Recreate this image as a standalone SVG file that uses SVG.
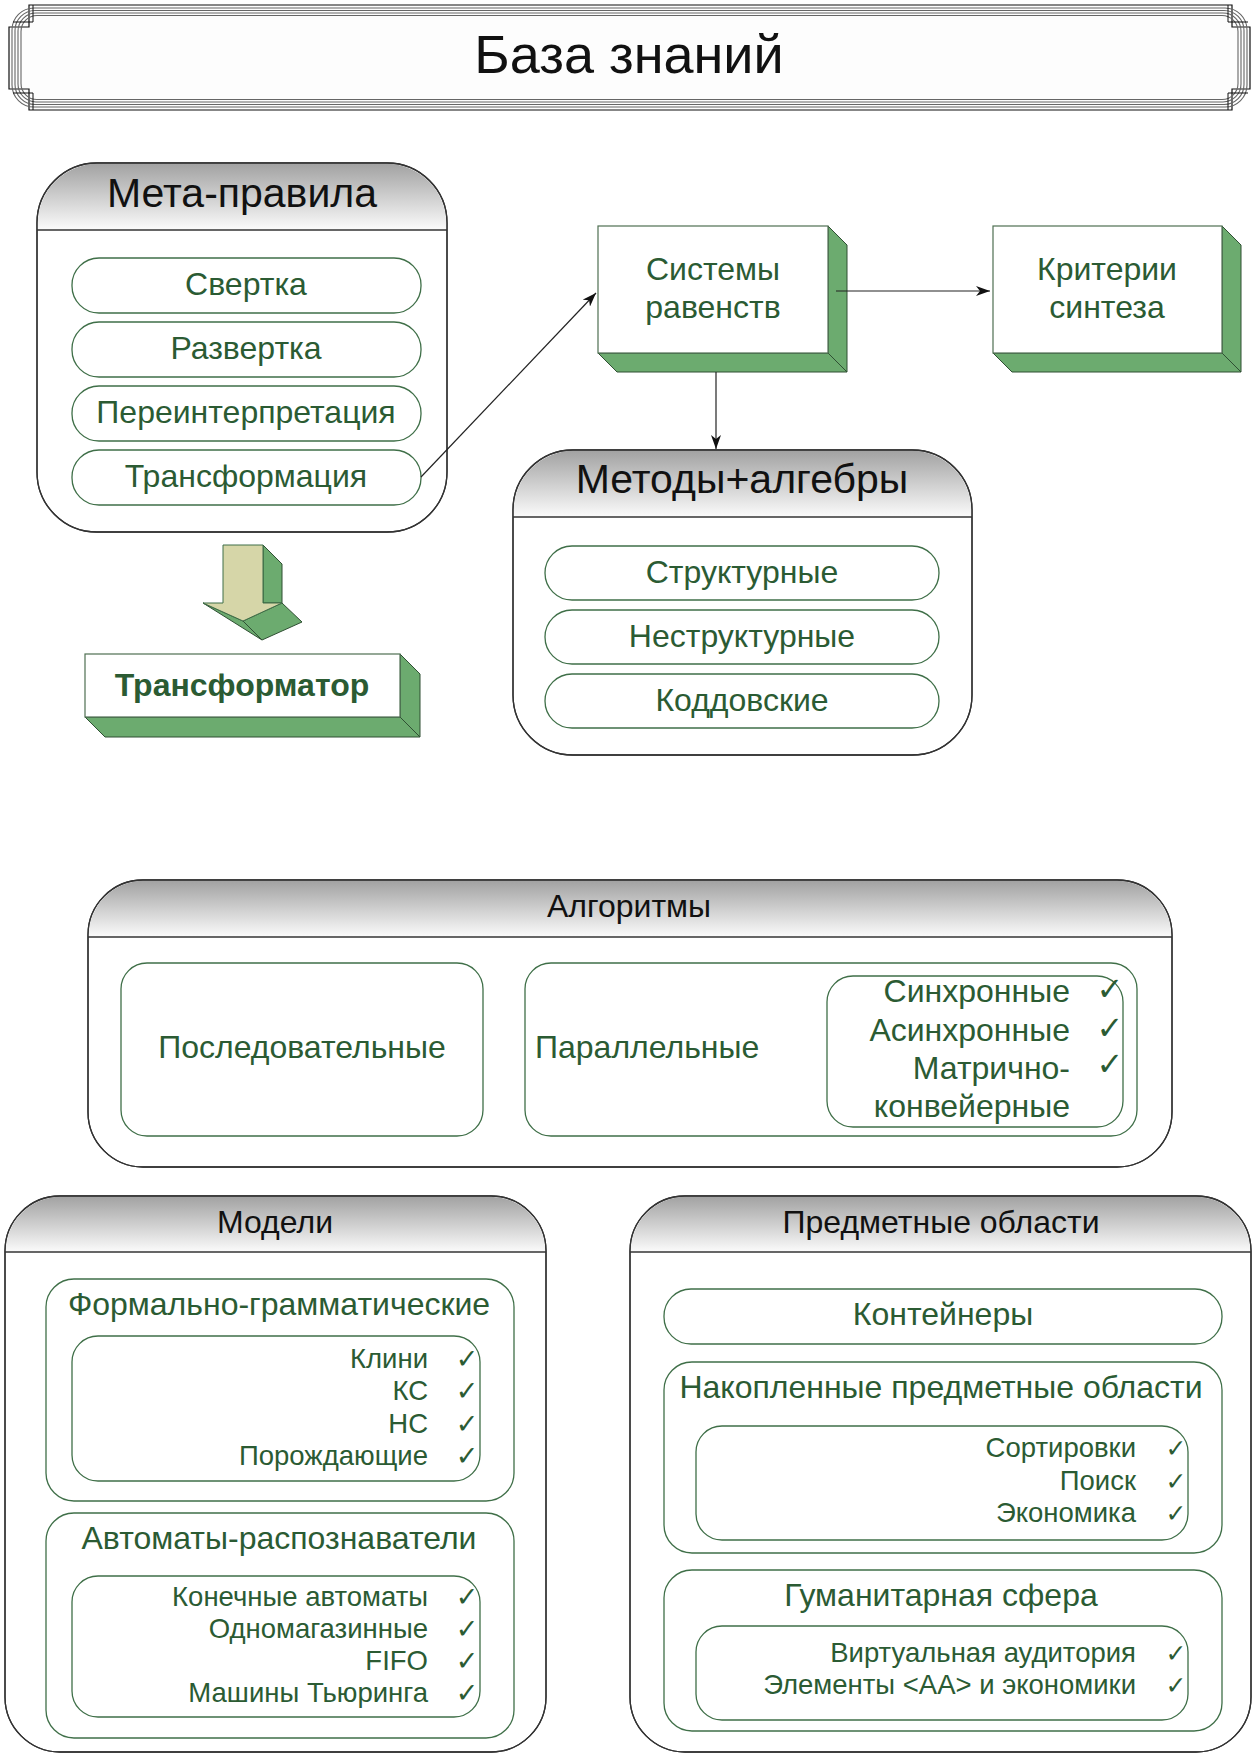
<svg xmlns="http://www.w3.org/2000/svg" width="1253" height="1753" viewBox="0 0 1253 1753">
<defs>
<linearGradient id="hg" x1="0" y1="0" x2="0" y2="1">
<stop offset="0" stop-color="#a2a2a2"/>
<stop offset="1" stop-color="#fbfbfb"/>
</linearGradient>
<marker id="ah" markerWidth="14" markerHeight="10" refX="14" refY="5" orient="auto" markerUnits="userSpaceOnUse">
<path d="M0,0 L14,5 L0,10 L4,5 Z" fill="#111"/>
</marker>
<style>
.cont{fill:#fff;stroke:#333;stroke-width:1.3}
.hdr{fill:url(#hg);stroke:none}
.hl{stroke:#333;stroke-width:1.3}
.pill{fill:#fff;stroke:#3f6f48;stroke-width:1.3}
.gt{font-family:"Liberation Sans",Arial,sans-serif;fill:#2b5b33}
.bt{font-family:"Liberation Sans",Arial,sans-serif;fill:#111}
.face{fill:#fff;stroke:#4f6f52;stroke-width:1.2}
.side{fill:#6cab6f;stroke:#2f4f33;stroke-width:1}
.beige{fill:#d6d6a8;stroke:#3f6f48;stroke-width:1}
.chk{font-family:"DejaVu Sans",sans-serif;fill:#2b5b33;text-anchor:middle}
.conn{stroke:#222;stroke-width:1.2;fill:none}
.fr{fill:none;stroke:#666;stroke-width:1.1}
</style>
</defs>
<rect width="1253" height="1753" fill="#fff"/>

<g id="title">
<path d="M29,5 H1232 V27 H1250 V89 H1232 V110 H29 V89 H9 V27 H29 Z" fill="#fdfdfd" stroke="#111" stroke-width="1.2"/>
<rect class="fr" x="12" y="8" width="1235" height="99" rx="22"/>
<rect class="fr" x="15" y="10.5" width="1229" height="94" rx="20"/>
<rect class="fr" x="18" y="13" width="1223" height="89" rx="18"/>
<rect class="fr" x="21" y="15.5" width="1217" height="84" rx="16"/>
<path d="M33,5 V22 H13 M1228,5 V22 H1248 M33,110 V93 H13 M1228,110 V93 H1248" fill="none" stroke="#111" stroke-width="1"/>
<text class="bt" x="629" y="73" font-size="54" text-anchor="middle">База знаний</text>
</g>

<g id="meta">
<rect class="cont" x="37" y="163" width="410" height="369" rx="60"/>
<path class="hdr" d="M37.7,230 V223 A60,60 0 0 1 97,163.7 H387 A60,60 0 0 1 446.3,223 V230 Z"/>
<rect x="37" y="163" width="410" height="369" rx="60" fill="none" stroke="#333" stroke-width="1.3"/>
<line class="hl" x1="37" y1="230" x2="447" y2="230"/>
<text class="bt" x="242" y="207" font-size="41" text-anchor="middle">Мета-правила</text>
<rect class="pill" x="72" y="258" width="349" height="55" rx="27"/>
<text class="gt" x="246" y="295" font-size="32" text-anchor="middle">Свертка</text>
<rect class="pill" x="72" y="322" width="349" height="55" rx="27"/>
<text class="gt" x="246" y="359" font-size="32" text-anchor="middle">Развертка</text>
<rect class="pill" x="72" y="386" width="349" height="55" rx="27"/>
<text class="gt" x="246" y="423" font-size="32" text-anchor="middle">Переинтерпретация</text>
<rect class="pill" x="72" y="450" width="349" height="55" rx="27"/>
<text class="gt" x="246" y="487" font-size="32" text-anchor="middle">Трансформация</text>
</g>

<g id="block-arrow">
<polygon class="side" points="263,545 282,564 282,603 263,603"/>
<polygon class="side" points="243,621 282,603 302,622 262,640"/>
<polygon class="side" points="203,603 243,621 262,640"/>
<polygon class="beige" points="223,545 263,545 263,603 282,603 243,621 203,603 223,603"/>
</g>

<g id="transformer">
<polygon class="side" points="400,654 420,674 420,737 400,717"/>
<polygon class="side" points="85,717 400,717 420,737 105,737"/>
<rect class="face" x="85" y="654" width="315" height="63"/>
<text class="gt" x="242" y="696" font-size="32" font-weight="bold" text-anchor="middle">Трансформатор</text>
</g>

<g id="systems">
<polygon class="side" points="828,226 847,245 847,372 828,353"/>
<polygon class="side" points="598,353 828,353 847,372 617,372"/>
<rect class="face" x="598" y="226" width="230" height="127"/>
<text class="gt" x="713" y="280" font-size="32" text-anchor="middle">Системы</text>
<text class="gt" x="713" y="318" font-size="32" text-anchor="middle">равенств</text>
</g>

<g id="criteria">
<polygon class="side" points="1222,226 1241,245 1241,372 1222,353"/>
<polygon class="side" points="993,353 1222,353 1241,372 1012,372"/>
<rect class="face" x="993" y="226" width="229" height="127"/>
<text class="gt" x="1107" y="280" font-size="32" text-anchor="middle">Критерии</text>
<text class="gt" x="1107" y="318" font-size="32" text-anchor="middle">синтеза</text>
</g>

<g id="methods">
<rect class="cont" x="513" y="450" width="459" height="305" rx="60"/>
<path class="hdr" d="M513.7,517 V510 A60,60 0 0 1 573,450.7 H912 A60,60 0 0 1 971.3,510 V517 Z"/>
<rect x="513" y="450" width="459" height="305" rx="60" fill="none" stroke="#333" stroke-width="1.3"/>
<line class="hl" x1="513" y1="517" x2="972" y2="517"/>
<text class="bt" x="742" y="493" font-size="41" text-anchor="middle">Методы+алгебры</text>
<rect class="pill" x="545" y="546" width="394" height="54" rx="27"/>
<text class="gt" x="742" y="583" font-size="32" text-anchor="middle">Структурные</text>
<rect class="pill" x="545" y="610" width="394" height="54" rx="27"/>
<text class="gt" x="742" y="647" font-size="32" text-anchor="middle">Неструктурные</text>
<rect class="pill" x="545" y="674" width="394" height="54" rx="27"/>
<text class="gt" x="742" y="711" font-size="32" text-anchor="middle">Коддовские</text>
</g>

<g id="algorithms">
<rect class="cont" x="88" y="880" width="1084" height="287" rx="55"/>
<path class="hdr" d="M88.7,937 V935 A55,55 0 0 1 143,880.7 H1117 A55,55 0 0 1 1171.3,935 V937 Z"/>
<rect x="88" y="880" width="1084" height="287" rx="55" fill="none" stroke="#333" stroke-width="1.3"/>
<line class="hl" x1="88" y1="937" x2="1172" y2="937"/>
<text class="bt" x="629" y="917" font-size="32" text-anchor="middle">Алгоритмы</text>
<rect class="pill" x="121" y="963" width="362" height="173" rx="26"/>
<text class="gt" x="302" y="1058" font-size="32" text-anchor="middle">Последовательные</text>
<rect class="pill" x="525" y="963" width="612" height="173" rx="26"/>
<text class="gt" x="535" y="1058" font-size="32">Параллельные</text>
<rect class="pill" x="827" y="976" width="296" height="151" rx="26"/>
<text class="gt" x="1070" y="1002" font-size="32" text-anchor="end">Синхронные</text>
<text class="gt" x="1070" y="1041" font-size="32" text-anchor="end">Асинхронные</text>
<text class="gt" x="1070" y="1079" font-size="32" text-anchor="end">Матрично-</text>
<text class="gt" x="1070" y="1117" font-size="32" text-anchor="end">конвейерные</text>
<text class="chk" x="1110" y="1000" font-size="32">✓</text>
<text class="chk" x="1110" y="1039" font-size="32">✓</text>
<text class="chk" x="1110" y="1075" font-size="32">✓</text>
</g>

<g id="models">
<rect class="cont" x="5" y="1196" width="541" height="556" rx="55"/>
<path class="hdr" d="M5.7,1252 V1251 A55,55 0 0 1 60,1196.7 H491 A55,55 0 0 1 545.3,1251 V1252 Z"/>
<rect x="5" y="1196" width="541" height="556" rx="55" fill="none" stroke="#333" stroke-width="1.3"/>
<line class="hl" x1="5" y1="1252" x2="546" y2="1252"/>
<text class="bt" x="275" y="1233" font-size="32" text-anchor="middle">Модели</text>
<rect class="pill" x="46" y="1279" width="468" height="222" rx="28"/>
<text class="gt" x="279" y="1315" font-size="32" text-anchor="middle">Формально-грамматические</text>
<rect class="pill" x="72" y="1336" width="408" height="145" rx="26"/>
<text class="gt" x="428" y="1368" font-size="27.5" text-anchor="end">Клини</text>
<text class="gt" x="428" y="1400" font-size="27.5" text-anchor="end">КС</text>
<text class="gt" x="428" y="1433" font-size="27.5" text-anchor="end">НС</text>
<text class="gt" x="428" y="1465" font-size="27.5" text-anchor="end">Порождающие</text>
<text class="chk" x="467" y="1368" font-size="27">✓</text>
<text class="chk" x="467" y="1400" font-size="27">✓</text>
<text class="chk" x="467" y="1433" font-size="27">✓</text>
<text class="chk" x="467" y="1465" font-size="27">✓</text>
<rect class="pill" x="46" y="1513" width="468" height="225" rx="28"/>
<text class="gt" x="279" y="1549" font-size="32" text-anchor="middle">Автоматы-распознаватели</text>
<rect class="pill" x="72" y="1576" width="408" height="141" rx="26"/>
<text class="gt" x="428" y="1606" font-size="27.5" text-anchor="end">Конечные автоматы</text>
<text class="gt" x="428" y="1638" font-size="27.5" text-anchor="end">Одномагазинные</text>
<text class="gt" x="428" y="1670" font-size="27.5" text-anchor="end">FIFO</text>
<text class="gt" x="428" y="1702" font-size="27.5" text-anchor="end">Машины Тьюринга</text>
<text class="chk" x="467" y="1606" font-size="27">✓</text>
<text class="chk" x="467" y="1638" font-size="27">✓</text>
<text class="chk" x="467" y="1670" font-size="27">✓</text>
<text class="chk" x="467" y="1702" font-size="27">✓</text>
</g>

<g id="domains">
<rect class="cont" x="630" y="1196" width="621" height="556" rx="55"/>
<path class="hdr" d="M630.7,1252 V1251 A55,55 0 0 1 685,1196.7 H1196 A55,55 0 0 1 1250.3,1251 V1252 Z"/>
<rect x="630" y="1196" width="621" height="556" rx="55" fill="none" stroke="#333" stroke-width="1.3"/>
<line class="hl" x1="630" y1="1252" x2="1251" y2="1252"/>
<text class="bt" x="941" y="1233" font-size="32" text-anchor="middle">Предметные области</text>
<rect class="pill" x="664" y="1289" width="558" height="55" rx="27"/>
<text class="gt" x="943" y="1325" font-size="32" text-anchor="middle">Контейнеры</text>
<rect class="pill" x="664" y="1362" width="558" height="191" rx="28"/>
<text class="gt" x="941" y="1398" font-size="32" text-anchor="middle">Накопленные предметные области</text>
<rect class="pill" x="696" y="1426" width="492" height="114" rx="26"/>
<text class="gt" x="1136" y="1457" font-size="27.5" text-anchor="end">Сортировки</text>
<text class="gt" x="1136" y="1490" font-size="27.5" text-anchor="end">Поиск</text>
<text class="gt" x="1136" y="1522" font-size="27.5" text-anchor="end">Экономика</text>
<text class="chk" x="1176" y="1457" font-size="25">✓</text>
<text class="chk" x="1176" y="1490" font-size="25">✓</text>
<text class="chk" x="1176" y="1522" font-size="25">✓</text>
<rect class="pill" x="664" y="1570" width="558" height="161" rx="28"/>
<text class="gt" x="941" y="1606" font-size="32" text-anchor="middle">Гуманитарная сфера</text>
<rect class="pill" x="696" y="1626" width="492" height="94" rx="26"/>
<text class="gt" x="1136" y="1662" font-size="27.5" text-anchor="end">Виртуальная аудитория</text>
<text class="gt" x="1136" y="1694" font-size="27.5" text-anchor="end">Элементы &lt;АА&gt; и экономики</text>
<text class="chk" x="1176" y="1662" font-size="25">✓</text>
<text class="chk" x="1176" y="1694" font-size="25">✓</text>
</g>

<g id="connectors">
<line class="conn" x1="421" y1="477" x2="596" y2="293" marker-end="url(#ah)"/>
<line class="conn" x1="836" y1="291" x2="990" y2="291" marker-end="url(#ah)"/>
<line class="conn" x1="716" y1="372" x2="716" y2="449" marker-end="url(#ah)"/>
</g>
</svg>
